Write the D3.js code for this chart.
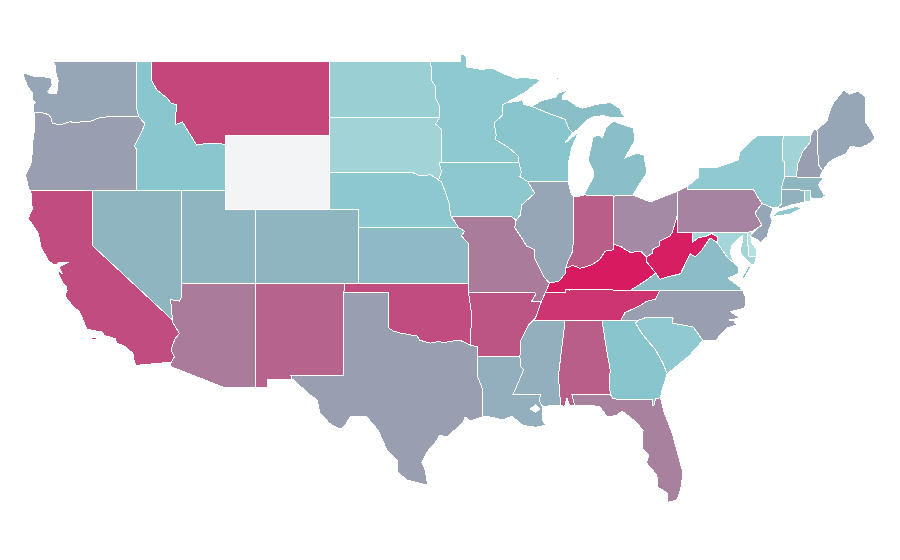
<!DOCTYPE html>
<html>

<head>
    <meta charset="utf-8">
    <title>US states choropleth</title>
    <script src="https://d3js.org/d3.v7.min.js"></script>
</head>

<style>
    body {
        margin: 0px;
        background-color: white;
        overflow: hidden;
    }

    .state {
        stroke: white;
        stroke-width: 1px;
        fill-rule: evenodd;
        shape-rendering: crispEdges;
    }
</style>

<body>
    <svg id="svg" width="900" height="560"></svg>

    <script>
        // 0 = palest teal, 100 = crimson, null = no data
        var stateNames = ["WA", "OR", "CA", "ID", "NV", "MT", "WY", "UT", "AZ", "CO", "NM", "ND", "SD", "NE", "KS", "OK", "TX", "MN", "IA", "MO", "AR", "LA", "WI", "IL", "MS", "MI", "IN", "KY", "TN", "AL", "OH", "WV", "VA", "NC", "SC", "GA", "FL", "PA", "NY", "NJ", "MD", "DE", "CT", "RI", "MA", "VT", "NH", "ME"]
        var stateValues = [50, 55, 83, 29, 40, 85, null, 40, 67, 40, 75, 18, 14, 27, 37, 83, 55, 26, 27, 67, 80, 45, 30, 50, 45, 34, 77, 100, 91, 77, 62, 99, 36, 55, 25, 30, 65, 64, 25, 50, 12, 0, 43, 14, 40, 14, 55, 50]

        var colorStops = [0, 30, 55, 100]
        var colorRange = ["#b6e0e1", "#88c5cc", "#9a9eb1", "#d81b60"]
        var noDataColor = "#f3f4f6"

        // state outlines as lists of rings, [lon, lat]
        var WA = [[[-122.7, 49], [-117.03, 49], [-117.04, 46.42], [-116.92, 46], [-118.98, 46], [-119.3, 45.93], [-119.6, 45.92], [-120.2, 45.73], [-120.65, 45.74], [-121.2, 45.65], [-121.53, 45.72], [-122, 45.6], [-122.3, 45.55], [-122.75, 45.65], [-122.8, 45.9], [-123, 46.1], [-123.4, 46.2], [-123.95, 46.22], [-124.05, 46.3], [-124.05, 46.65], [-123.9, 46.75], [-124.1, 46.9], [-124.1, 47.27], [-124.4, 47.6], [-124.7, 48.2], [-124.73, 48.38], [-124, 48.17], [-123.1, 48.13], [-122.85, 48.12], [-122.75, 47.7], [-123.05, 47.35], [-122.95, 47.25], [-122.45, 47.25], [-122.4, 47.6], [-122.35, 47.95], [-122.5, 48.35], [-122.55, 48.75]]]
        var OR = [[[-123.95, 46.22], [-123.4, 46.2], [-123, 46.1], [-122.8, 45.9], [-122.75, 45.65], [-122.3, 45.55], [-122, 45.6], [-121.53, 45.72], [-121.2, 45.65], [-120.65, 45.74], [-120.2, 45.73], [-119.6, 45.92], [-119.3, 45.93], [-118.98, 46], [-116.92, 46], [-116.47, 45.6], [-116.85, 44.95], [-117.2, 44.4], [-117.05, 44.23], [-117.03, 43.8], [-117.03, 42], [-124.2, 42], [-124.35, 42.1], [-124.55, 42.84], [-124.2, 43.4], [-124.1, 44], [-124.05, 44.7], [-123.95, 45.3]]]
        var CA = [[[-124.2, 42], [-120, 42], [-120, 39], [-114.63, 35], [-114.6, 34.85], [-114.15, 34.27], [-114.45, 34], [-114.72, 33.4], [-114.5, 33], [-114.72, 32.72], [-117.07, 32.55], [-117.25, 32.85], [-117.3, 33.2], [-117.9, 33.6], [-118.4, 33.75], [-118.5, 34], [-119.2, 34.15], [-119.4, 34.35], [-120.4, 34.5], [-120.67, 35], [-120.9, 35.45], [-121.3, 35.7], [-121.9, 36.3], [-121.75, 36.6], [-121.8, 36.8], [-122, 36.97], [-122.35, 37.55], [-122.5, 37.72], [-122.05, 37.5], [-122.3, 37.85], [-121.65, 38.12], [-122.35, 38.1], [-122.55, 37.95], [-123, 38.2], [-123.5, 38.9], [-123.7, 39.7], [-124.25, 40.35], [-124.4, 40.45], [-124.1, 41]],
        [[-120.2, 34], [-119.95, 34.05], [-119.55, 34.03], [-119.9, 33.95]], [[-118.6, 33.45], [-118.35, 33.4], [-118.4, 33.33]]]
        var ID = [[[-117.03, 49], [-116.05, 49], [-116.05, 48], [-115.7, 47.45], [-115, 47], [-114.7, 46.7], [-114.35, 46.65], [-114.45, 45.55], [-113.95, 45.7], [-113.45, 45.05], [-113, 44.45], [-112.3, 44.55], [-111.5, 44.55], [-111.05, 44.47], [-111.05, 42], [-117.03, 42], [-117.03, 43.8], [-117.05, 44.23], [-117.2, 44.4], [-116.85, 44.95], [-116.47, 45.6], [-116.92, 46], [-117.04, 46.42]]]
        var NV = [[[-120, 42], [-114.05, 42], [-114.05, 36.2], [-114.15, 36.02], [-114.75, 36.1], [-114.63, 35], [-120, 39]]]
        var MT = [[[-116.05, 49], [-104.05, 49], [-104.05, 45], [-111.05, 45], [-111.05, 44.47], [-111.5, 44.55], [-112.3, 44.55], [-113, 44.45], [-113.45, 45.05], [-113.95, 45.7], [-114.45, 45.55], [-114.35, 46.65], [-114.7, 46.7], [-115, 47], [-115.7, 47.45], [-116.05, 48]]]
        var WY = [[[-111.05, 45], [-104.05, 45], [-104.05, 41], [-111.05, 41]]]
        var UT = [[[-114.05, 42], [-111.05, 42], [-111.05, 41], [-109.05, 41], [-109.05, 37], [-114.05, 37]]]
        var AZ = [[[-114.05, 37], [-109.05, 37], [-109.05, 31.33], [-111.07, 31.33], [-114.8, 32.5], [-114.72, 32.72], [-114.5, 33], [-114.72, 33.4], [-114.45, 34], [-114.15, 34.27], [-114.6, 34.85], [-114.63, 35], [-114.75, 36.1], [-114.15, 36.02], [-114.05, 36.2]]]
        var CO = [[[-109.05, 41], [-102.05, 41], [-102.05, 37], [-109.05, 37]]]
        var NM = [[[-109.05, 37], [-103, 37], [-103.04, 36.5], [-103.06, 32], [-106.62, 32], [-106.53, 31.78], [-108.21, 31.78], [-108.21, 31.33], [-109.05, 31.33]]]
        var ND = [[[-104.05, 49], [-97.23, 49], [-97.1, 48.5], [-97.15, 48], [-96.85, 47.6], [-96.85, 47], [-96.55, 46.5], [-96.56, 45.94], [-104.05, 45.94]]]
        var SD = [[[-104.05, 45.94], [-96.56, 45.94], [-96.85, 45.6], [-96.45, 45.3], [-96.45, 43.5], [-96.6, 43.5], [-96.45, 43], [-96.65, 42.55], [-96.45, 42.49], [-97.2, 42.85], [-97.9, 42.8], [-98.5, 43], [-104.05, 43]]]
        var NE = [[[-104.05, 43], [-98.5, 43], [-97.9, 42.8], [-97.2, 42.85], [-96.45, 42.49], [-96.1, 41.7], [-95.9, 41.2], [-95.85, 40.65], [-95.77, 40.58], [-95.3, 40], [-102.05, 40], [-102.05, 41], [-104.05, 41]]]
        var KS = [[[-102.05, 40], [-95.3, 40], [-94.9, 39.8], [-95.1, 39.55], [-94.6, 39.1], [-94.62, 37], [-102.05, 37]]]
        var OK = [[[-103, 37], [-94.62, 37], [-94.62, 36.5], [-94.43, 35.4], [-94.48, 33.64], [-95.2, 33.9], [-95.9, 33.85], [-96.35, 33.75], [-96.6, 33.85], [-97.2, 33.75], [-97.9, 33.9], [-98.1, 34.13], [-99.25, 34.3], [-99.7, 34.4], [-100, 34.56], [-100, 36.5], [-103.04, 36.5]]]
        var TX = [[[-103.04, 36.5], [-100, 36.5], [-100, 34.56], [-99.7, 34.4], [-99.25, 34.3], [-98.1, 34.13], [-97.9, 33.9], [-97.2, 33.75], [-96.6, 33.85], [-96.35, 33.75], [-95.9, 33.85], [-95.2, 33.9], [-94.48, 33.64], [-94.04, 33.55], [-94.04, 33.02], [-94.04, 32], [-93.65, 31.2], [-93.7, 30.6], [-93.7, 30.1], [-93.7, 29.76], [-94.5, 29.55], [-94.85, 29.75], [-95, 29.45], [-96.08, 28.67], [-96.55, 28.78], [-96.9, 28.35], [-97.43, 27.87], [-97.77, 27.3], [-97.56, 26.9], [-97.36, 25.97], [-97.43, 26.08], [-98.8, 26.35], [-99.4, 26.78], [-99.45, 27.43], [-100.13, 27.97], [-100.74, 29.05], [-101.5, 29.76], [-102.63, 29.76], [-102.95, 29.3], [-103.3, 29.1], [-104, 29.4], [-104.66, 29.97], [-104.86, 30.68], [-105.5, 31.05], [-106.4, 31.75], [-106.53, 31.78], [-106.62, 32], [-103.06, 32]]]
        var MN = [[[-97.23, 49], [-95.15, 49], [-95.15, 49.38], [-94.8, 49.3], [-94.73, 48.68], [-93.8, 48.55], [-93, 48.6], [-92.36, 48.35], [-91.4, 48.05], [-90.95, 48.13], [-90.75, 48.1], [-89.7, 48], [-90.8, 47.3], [-92.1, 46.73], [-92.3, 46.65], [-92.3, 46.1], [-92.9, 45.65], [-92.75, 45], [-92.8, 44.75], [-91.95, 44.35], [-91.25, 43.85], [-91.22, 43.5], [-96.45, 43.5], [-96.45, 45.3], [-96.85, 45.6], [-96.56, 45.94], [-96.55, 46.5], [-96.85, 47], [-96.85, 47.6], [-97.15, 48], [-97.1, 48.5]]]
        var IA = [[[-96.6, 43.5], [-91.22, 43.5], [-91.05, 43], [-91.15, 42.75], [-90.65, 42.5], [-90.15, 41.85], [-91.05, 41.2], [-91.1, 40.7], [-91.42, 40.38], [-91.72, 40.6], [-95.77, 40.58], [-95.85, 40.65], [-95.9, 41.2], [-96.1, 41.7], [-96.45, 42.49], [-96.65, 42.55], [-96.45, 43]]]
        var MO = [[[-95.77, 40.58], [-91.72, 40.6], [-91.42, 40.38], [-91.5, 40], [-91, 39.4], [-90.7, 39], [-90.15, 38.8], [-90.2, 38.4], [-89.5, 37.3], [-89.15, 37], [-89.42, 36.5], [-89.7, 36], [-90.37, 36], [-90.07, 36.4], [-90.15, 36.5], [-94.62, 36.5], [-94.62, 37], [-94.6, 39.1], [-95.1, 39.55], [-94.9, 39.8], [-95.3, 40]]]
        var AR = [[[-94.62, 36.5], [-90.15, 36.5], [-90.07, 36.4], [-90.37, 36], [-89.7, 36], [-90.1, 35.1], [-90.6, 34.7], [-91.1, 33.9], [-91.15, 33], [-94.04, 33.02], [-94.04, 33.55], [-94.48, 33.64], [-94.43, 35.4]]]
        var LA = [[[-94.04, 33.02], [-91.15, 33], [-91.1, 32.5], [-90.9, 32.3], [-91.6, 31], [-89.73, 31], [-89.85, 30.65], [-89.6, 30.3], [-89.6, 30.13], [-89.65, 29.6], [-89.25, 29.15], [-89.5, 29.3], [-90.1, 29.2], [-90.95, 29.3], [-91.7, 29.8], [-92.3, 29.6], [-93.17, 29.76], [-93.7, 29.76], [-93.7, 30.1], [-93.7, 30.6], [-93.65, 31.2], [-94.04, 32]],
        [[-90.45, 30.2], [-90.1, 30.4], [-89.8, 30.2], [-90.1, 30]]]
        var WI = [[[-92.1, 46.73], [-91.1, 46.85], [-91, 46.98], [-90.9, 46.65], [-90.35, 46.55], [-89.1, 46.13], [-88.1, 45.85], [-87.85, 45.35], [-87.6, 45.12], [-88.1, 44.57], [-87.2, 45.16], [-87.63, 44.35], [-87.9, 43.4], [-87.9, 42.49], [-90.65, 42.5], [-91.15, 42.75], [-91.05, 43], [-91.22, 43.5], [-91.25, 43.85], [-91.95, 44.35], [-92.8, 44.75], [-92.75, 45], [-92.9, 45.65], [-92.3, 46.1], [-92.3, 46.65]]]
        var IL = [[[-90.65, 42.5], [-87.9, 42.49], [-87.7, 41.85], [-87.53, 41.7], [-87.53, 39.35], [-87.6, 38.7], [-87.95, 38.1], [-88.05, 37.8], [-88.1, 37.5], [-88.5, 37.1], [-89.15, 37], [-89.5, 37.3], [-90.2, 38.4], [-90.15, 38.8], [-90.7, 39], [-91, 39.4], [-91.5, 40], [-91.42, 40.38], [-91.1, 40.7], [-91.05, 41.2], [-90.15, 41.85]]]
        var MS = [[[-90.22, 35], [-88.2, 35], [-88.1, 34.9], [-88.55, 32], [-88.4, 30.4], [-88.9, 30.4], [-89.6, 30.3], [-89.85, 30.65], [-89.73, 31], [-91.6, 31], [-90.9, 32.3], [-91.1, 32.5], [-91.15, 33], [-91.1, 33.9], [-90.6, 34.7]]]
        var MI = [[[-90.35, 46.55], [-89.7, 46.85], [-88.75, 47.05], [-88.55, 47.25], [-87.9, 47.45], [-88.3, 47.1], [-88.3, 46.9], [-87.9, 46.9], [-87.3, 46.55], [-86.9, 46.45], [-86, 46.65], [-85.4, 46.72], [-85, 46.75], [-84.4, 46.42], [-84.2, 46.08], [-83.7, 46.03], [-84.1, 45.97], [-84.9, 45.92], [-85.5, 46.05], [-86.2, 45.97], [-86.6, 45.8], [-87.3, 45.27], [-87.6, 45.12], [-87.85, 45.35], [-88.1, 45.85], [-89.1, 46.13]],
        [[-84.75, 45.72], [-83.5, 45.38], [-83.37, 44.73], [-84.05, 43.76], [-83.2, 44.03], [-82.77, 43.9], [-82.56, 42.95], [-83.2, 42.2], [-83.5, 41.75], [-84.8, 41.7], [-86.8, 41.76], [-86.55, 42.2], [-86.2, 42.68], [-86.2, 43.1], [-86.55, 43.65], [-86.2, 44.9], [-85.74, 45], [-85.6, 44.85], [-85.3, 45.43], [-84.9, 45.7]],
        [[-89.2, 47.85], [-88.5, 48.15], [-88.5, 48.05]]]
        var IN = [[[-87.53, 41.7], [-87.3, 41.65], [-86.8, 41.76], [-84.8, 41.7], [-84.82, 39.1], [-84.8, 38.8], [-85.4, 38.72], [-85.75, 38.27], [-86.25, 38], [-86.6, 37.9], [-87.1, 37.8], [-87.6, 37.95], [-88.05, 37.8], [-87.95, 38.1], [-87.6, 38.7], [-87.53, 39.35]]]
        var KY = [[[-89.42, 36.5], [-89.15, 37], [-88.5, 37.1], [-88.1, 37.5], [-88.05, 37.8], [-87.6, 37.95], [-87.1, 37.8], [-86.6, 37.9], [-86.25, 38], [-85.75, 38.27], [-85.4, 38.72], [-84.8, 38.8], [-84.82, 39.1], [-84.3, 38.95], [-83.7, 38.65], [-83, 38.72], [-82.6, 38.42], [-82.6, 38.15], [-81.97, 37.53], [-82.7, 37.1], [-83.68, 36.6], [-86.5, 36.65], [-87.85, 36.62], [-88.05, 36.65], [-88.05, 36.5]]]
        var TN = [[[-89.42, 36.5], [-88.05, 36.5], [-88.05, 36.65], [-87.85, 36.62], [-86.5, 36.65], [-83.68, 36.6], [-81.7, 36.59], [-81.82, 36.4], [-82, 36.12], [-82.6, 36], [-83.1, 35.75], [-84.05, 35.4], [-84.32, 35], [-85.6, 35], [-88.2, 35], [-90.22, 35], [-90.1, 35.1], [-89.7, 36]]]
        var AL = [[[-88.2, 35], [-85.6, 35], [-85.4, 33.9], [-85.18, 32.87], [-85.05, 32.3], [-85.1, 31.55], [-85.05, 31], [-87.65, 31], [-87.45, 30.4], [-87.8, 30.35], [-87.97, 30.78], [-88.15, 30.3], [-88.4, 30.4], [-88.55, 32], [-88.1, 34.9]]]
        var OH = [[[-84.8, 41.7], [-83.5, 41.75], [-82.35, 41.38], [-81.5, 41.65], [-80.52, 41.95], [-80.52, 40.64], [-80.85, 39.75], [-81, 39.55], [-81.75, 39.25], [-81.75, 39], [-82.15, 38.85], [-82.2, 38.6], [-82.6, 38.42], [-83, 38.72], [-83.7, 38.65], [-84.3, 38.95], [-84.82, 39.1]]]
        var WV = [[[-82.6, 38.42], [-82.2, 38.6], [-82.15, 38.85], [-81.75, 39], [-81.75, 39.25], [-81, 39.55], [-80.85, 39.75], [-80.52, 40.64], [-80.52, 39.72], [-79.48, 39.72], [-79.48, 39.2], [-79.05, 39.47], [-78.65, 39.5], [-78.2, 39.68], [-77.83, 39.5], [-77.83, 39.2], [-78.3, 39.43], [-78.87, 38.77], [-79.3, 38.42], [-79.65, 38.58], [-80.3, 37.5], [-81.3, 37.3], [-81.68, 37.2], [-81.97, 37.53], [-82.6, 38.15]]]
        var VA = [[[-83.68, 36.6], [-81.7, 36.59], [-76.07, 36.57], [-76.28, 36.78], [-77.09, 37.27], [-76.4, 37.5], [-76.41, 37.86], [-76.62, 38.05], [-77.1, 38.35], [-77.5, 38.8], [-77.83, 39.2], [-78.3, 39.43], [-78.87, 38.77], [-79.3, 38.42], [-79.65, 38.58], [-80.3, 37.5], [-81.3, 37.3], [-81.68, 37.2], [-81.97, 37.53], [-82.7, 37.1]],
        [[-75.72, 37.9], [-75.55, 37.85], [-76.02, 37.22], [-76.12, 37.3]]]
        var NC = [[[-84.32, 35], [-84.05, 35.4], [-83.1, 35.75], [-82.6, 36], [-82, 36.12], [-81.82, 36.4], [-81.7, 36.59], [-76.07, 36.57], [-75.9, 36.2], [-75.95, 35.65], [-76.9, 35.45], [-76.3, 35.1], [-77.05, 35], [-76.75, 35], [-76.5, 34.75], [-77.2, 34.55], [-77.95, 33.87], [-78.8, 33.92], [-79.45, 34.62], [-80.87, 34.84], [-80.8, 35.1], [-81.05, 35.15], [-82.55, 35.16], [-83.1, 35]]]
        var SC = [[[-83.1, 35], [-82.55, 35.16], [-81.05, 35.15], [-80.8, 35.1], [-80.87, 34.84], [-79.45, 34.62], [-78.8, 33.92], [-79.2, 33.5], [-79.8, 33], [-81.2, 32.1], [-81.5, 32.68], [-82, 33.4], [-82.85, 34.2], [-83.35, 34.84]]]
        var GA = [[[-85.6, 35], [-84.32, 35], [-83.1, 35], [-83.35, 34.84], [-82.85, 34.2], [-82, 33.4], [-81.5, 32.68], [-81.2, 32.1], [-81.55, 31.2], [-81.66, 30.8], [-81.97, 30.75], [-82.1, 30.4], [-82.2, 30.4], [-82.21, 30.72], [-84.86, 30.73], [-85.05, 31], [-85.1, 31.55], [-85.05, 32.3], [-85.18, 32.87], [-85.4, 33.9]]]
        var FL = [[[-87.65, 31], [-85.05, 31], [-84.86, 30.73], [-82.21, 30.72], [-82.2, 30.4], [-82.1, 30.4], [-81.97, 30.75], [-81.66, 30.8], [-81.4, 30], [-80.87, 28.9], [-80.13, 26.73], [-80.3, 25.8], [-80.55, 25.27], [-81.15, 25.15], [-81.2, 25.65], [-81.83, 25.97], [-81.9, 26.62], [-82.6, 27.27], [-82.43, 27.7], [-82.9, 28.08], [-82.83, 29.05], [-83.4, 29.55], [-84.25, 30.08], [-84.6, 29.85], [-85.25, 29.76], [-85.74, 30.3], [-86.4, 30.4], [-87.45, 30.4]]]
        var PA = [[[-80.52, 41.95], [-79.8, 42.25], [-79.8, 42.03], [-75.35, 42.03], [-75.05, 41.6], [-74.8, 41.3], [-75.25, 40.8], [-75.2, 40.68], [-74.8, 40.14], [-75.42, 39.8], [-75.79, 39.72], [-80.52, 39.72]]]
        var NY = [[[-79.8, 42.25], [-79.05, 42.75], [-79.1, 43.27], [-77.75, 43.27], [-76.4, 43.65], [-76.3, 44.08], [-75.47, 44.73], [-75.05, 45], [-73.35, 45], [-73.4, 44.5], [-73.4, 43.6], [-73.25, 43.55], [-73.27, 42.75], [-73.5, 42.05], [-73.49, 41.25], [-73.73, 41.1], [-74.05, 41.05], [-74.8, 41.3], [-75.05, 41.6], [-75.35, 42.03], [-79.8, 42.03]],
        [[-74.05, 40.6], [-73.75, 40.87], [-72.5, 41.13], [-72.1, 41.05], [-72.9, 40.72]]]
        var NJ = [[[-74.8, 41.3], [-74.05, 41.05], [-74.25, 40.6], [-74.1, 40.4], [-74.38, 39.75], [-74.45, 39.5], [-74.95, 39.15], [-75, 39.3], [-75.6, 39.55], [-75.2, 39.9], [-74.8, 40.14], [-75.2, 40.68], [-75.25, 40.8]]]
        var MD = [[[-79.48, 39.72], [-75.79, 39.72], [-75.7, 38.46], [-75.15, 38.45], [-75.3, 38.05], [-75.55, 37.95], [-75.6, 38.08], [-76.15, 38.51], [-76.28, 38.78], [-76.08, 39.32], [-76.08, 39.6], [-76.82, 39.05], [-76.96, 38.62], [-76.62, 38.05], [-77.1, 38.35], [-77.5, 38.8], [-77.83, 39.2], [-77.83, 39.5], [-78.2, 39.68], [-78.65, 39.5], [-79.05, 39.47], [-79.48, 39.2]]]
        var DE = [[[-75.79, 39.72], [-75.5, 39.8], [-75.55, 39.5], [-75.45, 39.1], [-75.2, 38.85], [-75.15, 38.45], [-75.7, 38.46]]]
        var CT = [[[-73.5, 42.05], [-71.9, 42.02], [-71.9, 41.38], [-72.9, 41.2], [-73.66, 41], [-73.73, 41.1], [-73.49, 41.25]]]
        var RI = [[[-71.9, 42.02], [-71.5, 42.02], [-71.5, 41.65], [-71.55, 41.4], [-71.9, 41.38]]]
        var MA = [[[-73.5, 42.05], [-73.27, 42.75], [-72.45, 42.73], [-71.3, 42.7], [-70.88, 42.73], [-70.65, 42.65], [-71, 42.3], [-70.7, 41.92], [-70.6, 41.78], [-70.2, 41.82], [-70.6, 41.68], [-70.65, 41.6], [-71.35, 41.55], [-71.5, 41.65], [-71.5, 42.02], [-71.9, 42.02]],
        [[-70.8, 41.4], [-70.45, 41.4], [-70.6, 41.35]], [[-70.2, 41.3], [-69.97, 41.28], [-70.1, 41.24]]]
        var VT = [[[-73.35, 45], [-71.5, 45], [-71.55, 44.6], [-72.05, 44.1], [-72.4, 43.4], [-72.45, 42.73], [-73.27, 42.75], [-73.25, 43.55], [-73.4, 43.6], [-73.4, 44.5]]]
        var NH = [[[-71.5, 45], [-71.3, 45.3], [-71.08, 45.3], [-70.98, 43.4], [-70.7, 43.07], [-70.88, 42.73], [-71.3, 42.7], [-72.45, 42.73], [-72.4, 43.4], [-72.05, 44.1], [-71.55, 44.6]]]
        var ME = [[[-71.08, 45.3], [-70.4, 45.75], [-70.25, 46.2], [-70, 46.7], [-69.25, 47.45], [-68.9, 47.2], [-68.3, 47.36], [-67.8, 47.07], [-67.8, 45.7], [-67.45, 45.3], [-67.15, 44.85], [-67.6, 44.5], [-68.2, 44.3], [-68.8, 44.4], [-69.1, 44], [-69.8, 43.75], [-70.25, 43.55], [-70.7, 43.07], [-70.98, 43.4]]]

        var stateRings = [WA, OR, CA, ID, NV, MT, WY, UT, AZ, CO, NM, ND, SD, NE, KS, OK, TX, MN, IA, MO, AR, LA, WI, IL, MS, MI, IN, KY, TN, AL, OH, WV, VA, NC, SC, GA, FL, PA, NY, NJ, MD, DE, CT, RI, MA, VT, NH, ME]

        // plain stretched lon/lat, no spherical projection
        var x = d3.scaleLinear().domain([-125, -66]).range([18.94, 892.14])
        var y = d3.scaleLinear().domain([50, 25]).range([42.5, 505])

        var color = d3.scaleLinear().domain(colorStops).range(colorRange)

        var flat = d3.geoTransform({
            point: function (lon, lat) {
                this.stream.point(x(lon), y(lat))
            }
        })
        var path = d3.geoPath(flat)

        var features = stateNames.map(function (name, i) {
            return {
                type: "Feature",
                id: name,
                properties: { value: stateValues[i] },
                geometry: { type: "Polygon", coordinates: stateRings[i].map(function (r) { return r.concat([r[0]]) }) }
            }
        })

        d3.select("svg").append("g")
            .selectAll("path")
            .data(features)
            .join("path")
            .attr("class", "state")
            .attr("d", path)
            .attr("fill", function (d) {
                return d.properties.value === null ? noDataColor : color(d.properties.value)
            })
    </script>
</body>

</html>
